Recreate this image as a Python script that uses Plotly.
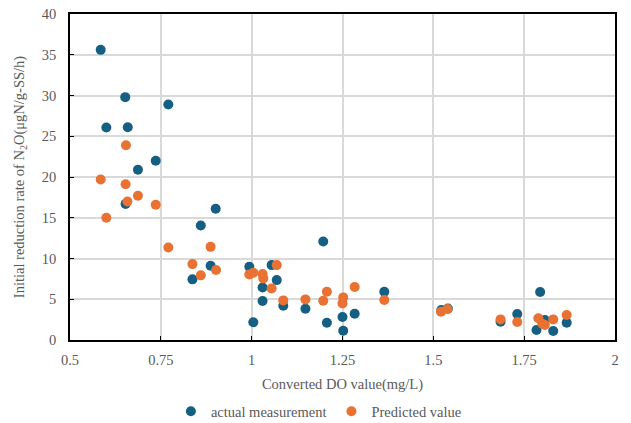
import plotly.graph_objects as go

actual_x = [0.5845, 0.600, 0.652, 0.659, 0.653, 0.687, 0.736, 0.7706, 0.837, 0.860, 0.887, 0.901,
            0.9935, 1.0045, 1.030, 1.030, 1.055, 1.069, 1.087, 1.148, 1.197, 1.207, 1.250, 1.252,
            1.2835, 1.365, 1.522, 1.540, 1.685, 1.731, 1.794, 1.784, 1.807, 1.830, 1.867]
actual_y = [35.6, 26.07, 29.8, 26.1, 16.7, 20.9, 22.0, 28.9, 7.44, 14.05, 9.1, 16.1,
            8.98, 2.17, 6.45, 4.78, 9.19, 7.35, 4.2, 3.84, 12.09, 2.12, 2.82, 1.14,
            3.22, 5.92, 3.68, 3.85, 2.25, 3.19, 5.88, 1.23, 2.45, 1.1, 2.12]

pred_x = [0.5845, 0.600, 0.653, 0.654, 0.658, 0.687, 0.736, 0.7706, 0.837, 0.860, 0.887, 0.902,
          0.9935, 1.0045, 1.030, 1.032, 1.055, 1.069, 1.087, 1.148, 1.197, 1.207, 1.252, 1.250,
          1.2835, 1.365, 1.521, 1.539, 1.685, 1.731, 1.789, 1.800, 1.807, 1.830, 1.867]
pred_y = [19.7, 15.0, 19.1, 23.9, 17.0, 17.7, 16.6, 11.36, 9.31, 7.93, 11.43, 8.58,
          8.05, 8.25, 8.09, 7.56, 6.33, 9.19, 4.86, 4.98, 4.82, 5.92, 5.23, 4.49,
          6.5, 4.9, 3.47, 3.8, 2.53, 2.2, 2.66, 2.0, 1.84, 2.53, 3.06]

x_ticks = [0.5, 0.75, 1, 1.25, 1.5, 1.75, 2]
x_tick_labels = ["0.5", "0.75", "1", "1.25", "1.5", "1.75", "2"]
y_ticks = [0, 5, 10, 15, 20, 25, 30, 35, 40]

font = "Liberation Serif"
gray = "#595959"
fs = 14.5

fig = go.Figure()
fig.add_trace(go.Scatter(x=actual_x, y=actual_y, mode="markers", name="actual measurement",
                         marker=dict(color="#156082", size=10)))
fig.add_trace(go.Scatter(x=pred_x, y=pred_y, mode="markers", name="Predicted value",
                         marker=dict(color="#E97132", size=10)))

fig.update_layout(
    width=623, height=415,
    margin=dict(l=62, r=16, t=6, b=83, autoexpand=False),
    paper_bgcolor="white", plot_bgcolor="white",
    font=dict(family=font, size=fs, color=gray),
    showlegend=True,
    legend=dict(orientation="h", xref="container", x=0.499, xanchor="center",
                yref="container", y=0.028, yanchor="middle",
                font=dict(family=font, size=fs, color=gray), itemwidth=30,
                bgcolor="rgba(0,0,0,0)"),
    xaxis=dict(range=[0.5, 2], tickvals=x_ticks, ticktext=x_tick_labels, automargin=False,
               showgrid=True, gridcolor="#D9D9D9", gridwidth=1.5,
               showline=True, linecolor="#000000", linewidth=1.5, mirror=True,
               ticks="inside", ticklen=4, tickcolor="#000000",
               ticklabelstandoff=6, ticklabeloverflow="allow",
               title=dict(text="Converted DO value(mg/L)", standoff=12,
                          font=dict(family=font, size=fs, color=gray)),
               zeroline=False),
    yaxis=dict(range=[0, 40], tickvals=y_ticks, automargin=False,
               showgrid=True, gridcolor="#D9D9D9", gridwidth=1.5,
               showline=True, linecolor="#000000", linewidth=1.5, mirror=True,
               ticks="inside", ticklen=4, tickcolor="#000000",
               ticklabelstandoff=9, ticklabeloverflow="allow",
               title=dict(text="Initial reduction rate of N<sub>2</sub>O(μgN/g-SS/h)", standoff=14,
                          font=dict(family=font, size=fs, color=gray)),
               zeroline=False),
)

fig.write_html("out.html")
